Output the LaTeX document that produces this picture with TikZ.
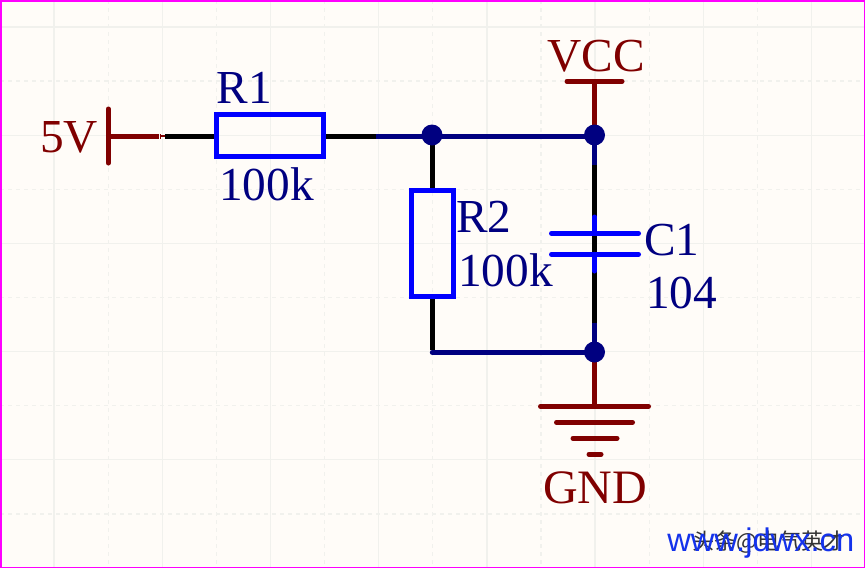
\documentclass[tikz,border=0pt]{standalone}
\usepackage{fontspec}
\setmainfont{Liberation Serif}
\newfontfamily\wmfont{Liberation Sans}
\newfontfamily\cjkfont{Noto Sans CJK SC}
\definecolor{paper}{RGB}{255,252,248}
\definecolor{gridc}{RGB}{241,241,237}
\definecolor{pwr}{RGB}{128,0,0}
\definecolor{netc}{RGB}{0,0,128}
\definecolor{partc}{RGB}{0,0,255}
\definecolor{wmc}{RGB}{20,50,235}
\definecolor{framec}{RGB}{255,0,255}
\tikzset{
  x=0.75pt,y=-0.75pt,
  lbl/.style={inner sep=0pt,anchor=base west,font=\fontsize{35.5}{36}\selectfont},
  netlbl/.style={lbl,text=netc},
  pwrlbl/.style={lbl,text=pwr},
  pinw/.style={draw=black,line width=3.75pt},
  wire/.style={draw=netc,line width=3.75pt,line cap=round},
  pwrw/.style={draw=pwr,line width=3.75pt,line cap=round},
  bluew/.style={draw=partc,line width=3.75pt,line cap=round},
  res/.style={draw=partc,line width=3.75pt,inner sep=0pt},
  junction/.style={circle,fill=netc,inner sep=0pt,minimum size=15.75pt},
  gridsolid/.style={draw=gridc,line width=1pt},
  griddash/.style={draw=gridc,line width=1pt,dash pattern=on 3pt off 3pt},
}
\begin{document}
\begin{tikzpicture}
\useasboundingbox (0,0) rectangle (865,568);
\fill[paper] (0,0) rectangle (865,568);
% grid
\foreach \k in {1,3,...,15}{\draw[gridsolid] ({54.1*\k},0) -- ({54.1*\k},568);}
\foreach \k in {2,4,...,14}{\draw[griddash] ({54.1*\k},0) -- ({54.1*\k},568);}
\foreach \k in {0,2,...,8}{\draw[gridsolid] (0,{27+54.1*\k}) -- (865,{27+54.1*\k});}
\foreach \k in {1,3,...,9}{\draw[griddash] (0,{27+54.1*\k}) -- (865,{27+54.1*\k});}
\draw[framec,line width=1.5pt] (0.5,0.5) rectangle (864.5,567.5);
% named points
\coordinate (portbar) at (108.3,136.3);
\coordinate (portend) at (158.5,136.3);
\coordinate (r1l) at (165,136.3);
\coordinate (r1r) at (376,136.3);
\coordinate (j1w) at (432.3,136.3);
\coordinate (j2w) at (594.5,136.3);
\coordinate (r2b) at (432.3,352.3);
\coordinate (r2p) at (432.3,350);
\coordinate (j3w) at (594.5,352.3);
\coordinate (capt) at (594.5,233.3);
\coordinate (capb) at (594.5,254.3);
\coordinate (pint) at (594.5,165);
\coordinate (pinb) at (594.5,323);
% parts
\node[res,minimum width=80.25pt,minimum height=31.5pt] (R1) at (270,135.5) {};
\node[res,minimum width=31.5pt,minimum height=79.5pt] (R2) at (432.7,243.5) {};
% black pins
\draw[pinw] (r1l) -- (R1.west |- r1l);
\draw[pinw] (R1.east |- r1r) -- (r1r);
\draw[pinw] (j1w) -- (j1w |- R2.north);
\draw[pinw] (j1w |- R2.south) -- (r2p);
\draw[pinw] (pint) -- (pinb);
% net wires
\draw[wire,line cap=butt] (r1r) -- (j1w);
\draw[wire,line cap=butt] (j1w) -- (j2w);
\draw[wire] (r2b) -- (j3w);
\draw[wire,line cap=butt] (j2w) -- (pint);
\draw[wire,line cap=butt] (pinb) -- (j3w);
% power
\draw[pwrw,line cap=butt] (portbar) -- (portend);
\draw[pwr,line width=3.75pt,line cap=butt] (159.5,136.3) -- (161,136.3);
\draw[pwr,line width=1.5pt,line cap=butt] (161,136.3) -- (164.5,136.3);
\draw[pwrw] (108.3,109) -- (108.3,163);
\draw[pwrw,line cap=butt] (594.5,81.3) -- (j2w);
\draw[pwrw] (567,81.3) -- (622,81.3);
\draw[pwrw,line cap=butt] (j3w) -- (594.5,406.3);
\draw[pwrw] (540.5,406.3) -- (648.5,406.3);
\draw[pwrw] (556.5,422.3) -- (632.5,422.3);
\draw[pwrw] (573,438.3) -- (617,438.3);
\draw[pwrw] (589,454.3) -- (601,454.3);
\node[junction] (j1) at (432,135) {};
\node[junction] (j2) at (594.5,135) {};
\node[junction] (j3) at (594.5,352) {};
% capacitor
\draw[bluew] (594.5,217) -- (capt);
\draw[bluew] (594.5,271) -- (capb);
\draw[bluew] (551.5,233.3) -- (638.5,233.3);
\draw[bluew] (551.5,254.3) -- (638.5,254.3);
% watermark
\node[inner sep=0pt,anchor=base west,text=black!80,font=\cjkfont\fontsize{16.6}{17}\selectfont] (wm2) at (692,549) {头条@电气英才};
\node[inner sep=0pt,anchor=base west,text=wmc,font=\wmfont\fontsize{24.5}{25}\selectfont] (wm1) at (667,551) {www.jdwx.cn};
% labels
\node[netlbl] (lr1) at (216.5,103) {R1};
\node[netlbl] (lv1) at (219,200) {100k};
\node[pwrlbl] (l5v) at (40,152) {5V};
\node[netlbl] (lr2) at (456,232.5) {R2};
\node[netlbl] (lv2) at (458,286) {100k};
\node[netlbl] (lc1) at (644,255) {C1};
\node[netlbl] (lv3) at (646,308) {104};
\node[pwrlbl] (lvcc) at (547,71) {VCC};
\node[pwrlbl,font=\fontsize{36}{36}\selectfont] (lgnd) at (543,503) {GND};
\end{tikzpicture}
\end{document}
